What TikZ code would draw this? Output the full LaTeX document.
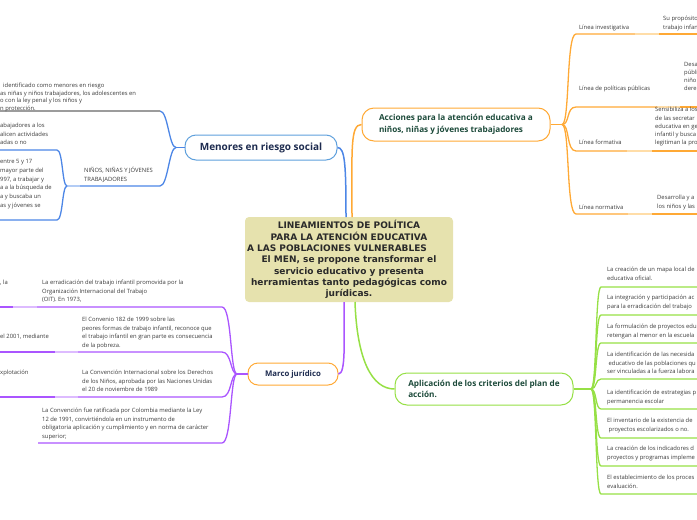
\documentclass[tikz,border=0pt]{standalone}
\usepackage{fontspec}
\setmainfont{Open Sans}
\newfontfamily\coreFont{DejaVu Sans}
\definecolor{ornLine}{HTML}{FFA935}
\definecolor{ornSoft}{HTML}{FFDDA8}
\definecolor{bluLine}{HTML}{4C86E6}
\definecolor{bluSoft}{HTML}{B3CCF5}
\definecolor{bluBorder}{HTML}{5FA0DC}
\definecolor{greyLine}{HTML}{9C9C9C}
\definecolor{purLine}{HTML}{AA55FF}
\definecolor{purSoft}{HTML}{DDBBFF}
\definecolor{grnLine}{HTML}{96E045}
\definecolor{coreFill}{HTML}{E6E2AE}
\definecolor{coreTxt}{HTML}{2A2A2A}
\definecolor{leafTxt}{HTML}{3A3A3A}
\definecolor{navyTxt}{HTML}{1D2B4F}
\definecolor{pineTxt}{HTML}{1C4A3A}
\begin{document}
\begin{tikzpicture}[x=1pt,y=-1pt,
  coreBox/.style={rectangle, rounded corners=4pt, fill=coreFill, minimum width=208pt, minimum height=85pt, inner sep=0pt, align=center, text=coreTxt, font=\coreFont\bfseries\fontsize{9}{11.3}\selectfont},
  topicBox/.style={rectangle, rounded corners=12pt, draw, line width=1pt, fill=white, inner sep=0pt, align=left, font=\bfseries\fontsize{8.2}{11.5}\selectfont},
  leafText/.style={anchor=north west, align=left, inner sep=0pt, text=leafTxt, font=\fontsize{5.85}{8.5}\selectfont},
  branchLine/.style={line width=1.5pt},
  leafLine/.style={line width=1.3pt}
]
\useasboundingbox (0,0) rectangle (697,520);
\clip (0,0) rectangle (697,520);
\node[coreBox] (core) at (349,259.5) {LINEAMIENTOS DE POLÍTICA\\PARA LA ATENCIÓN EDUCATIVA\\A LAS POBLACIONES VULNERABLES\mbox{\hspace{24pt}}\\El MEN,  se propone transformar el\\servicio educativo y presenta\\herramientas tanto pedagógicas como\\jurídicas.};
\node[topicBox, draw=ornLine, text=pineTxt, minimum width=188pt, minimum height=33pt] (acts) at (456,124.5) {Acciones para la atención educativa a\\niños, niñas y jóvenes trabajadores};
\node[topicBox, draw=bluBorder, text=navyTxt, minimum width=152pt, minimum height=25pt, rounded corners=11pt, font=\bfseries\fontsize{10}{12}\selectfont] (risk) at (261,147.5) {Menores en riesgo social};
\node[topicBox, draw=ornLine, text=navyTxt, minimum width=90pt, minimum height=22pt, rounded corners=10pt, font=\bfseries\fontsize{7.8}{11}\selectfont] (legal) at (293,374) {Marco jurídico};
\node[topicBox, draw=grnLine, text=pineTxt, minimum width=178pt, minimum height=32pt] (plan) at (484,389) {Aplicación de los criterios del plan de\\acción.};
\coordinate (coreBlue) at (346,217);
\coordinate (coreOrange) at (352,217);
\coordinate (corePurple) at (344,302);
\coordinate (coreGreen) at (355,302);
\draw[bluLine, branchLine] (coreBlue) .. controls (346,165) and (345,147.5) .. (risk.east);
\draw[ornLine, branchLine] (coreOrange) .. controls (352,150) and (350,124.5) .. (acts.west);
\draw[purLine, branchLine] (corePurple) .. controls (344,340) and (346,374) .. (legal.east);
\draw[grnLine, branchLine] (coreGreen) .. controls (357,360) and (372,389) .. (plan.west);
\coordinate (ornHub) at (562,124.5);
\draw[ornLine, branchLine] (acts.east) -- (ornHub);
\coordinate (ornLeafA) at (576,34);
\coordinate (ornLeafB) at (576,107);
\coordinate (ornLeafC) at (576,151);
\coordinate (ornLeafD) at (576,214);
\draw[ornLine, leafLine] (ornHub) .. controls (570,124.5) and (566,34) .. (ornLeafA) -- (635,34);
\draw[ornSoft, leafLine] (635,34) -- (659,34);
\draw[ornLine, leafLine] (659,34) -- (700,34);
\draw[ornLine, leafLine] (ornHub) .. controls (570,124.5) and (566,107) .. (ornLeafB) -- (657,107);
\draw[ornSoft, leafLine] (657,107) -- (680,107);
\draw[ornLine, leafLine] (680,107) -- (700,107);
\draw[ornLine, leafLine] (ornHub) .. controls (570,124.5) and (566,151) .. (ornLeafC) -- (627,151);
\draw[ornSoft, leafLine] (627,151) -- (652,151);
\draw[ornLine, leafLine] (652,151) -- (700,151);
\draw[ornLine, leafLine] (ornHub) .. controls (570,124.5) and (566,214) .. (ornLeafD) -- (628,214);
\draw[ornSoft, leafLine] (628,214) -- (652,214);
\draw[ornLine, leafLine] (652,214) -- (700,214);
\node[leafText] (lineInv) at (579,25.2) {Línea investigativa};
\node[leafText] (invNote) at (663,16.2) {Su propósito\\trabajo infan};
\node[leafText] (linePol) at (579,86.2) {Línea de políticas públicas};
\node[leafText, font=\fontsize{5.85}{8}\selectfont] (polNote) at (684,62.2) {Desa\\públi\\niño\\dere};
\node[leafText] (lineForm) at (579,140.2) {Línea formativa};
\node[leafText, font=\fontsize{5.85}{8.2}\selectfont] (formNote) at (655,107.2) {Sensibiliza a los\\de las secretar\\educativa en ge\\infantil y busca\\legitiman la pro};
\node[leafText] (lineNorm) at (579,205.2) {Línea normativa};
\node[leafText] (normNote) at (657,195.2) {Desarrolla y a\\los niños y las};
\coordinate (bluHub) at (176,147.5);
\coordinate (bluLeafA) at (160,111);
\coordinate (bluLeafB) at (160,186);
\draw[bluLine, branchLine] (risk.west) -- (bluHub);
\draw[bluLine, leafLine] (bluHub) .. controls (169,147.5) and (168,111) .. (bluLeafA);
\draw[greyLine, leafLine] (bluLeafA) -- (0,111);
\draw[bluLine, leafLine] (bluHub) .. controls (169,147.5) and (168,186) .. (bluLeafB) -- (80,186);
\draw[bluSoft, leafLine] (80,186) -- (67,186);
\coordinate (ninHub) at (67,186);
\coordinate (ninLeafA) at (57,150);
\coordinate (ninLeafB) at (57,220);
\draw[bluLine, leafLine] (ninHub) .. controls (62,186) and (63,150) .. (ninLeafA) -- (0,150);
\draw[bluLine, leafLine] (ninHub) .. controls (62,186) and (63,220) .. (ninLeafB) -- (0,220);
\node[leafText, font=\fontsize{5.85}{7.4}\selectfont] (riskNote) at (0,83.2) {\hspace*{3pt}identificado como menores en riesgo\\as niñas y niños trabajadores, los adolescentes en\\o con la ley penal y los niños y\\n protección.};
\node[leafText] (ninTitle) at (84,167.2) {NIÑOS, NIÑAS Y JÓVENES\\TRABAJADORES};
\node[leafText] (ninNoteA) at (0,123.2) {abajadores a los\\alicen actividades\\adas o no};
\node[leafText, font=\fontsize{5.85}{8.8}\selectfont] (ninNoteB) at (0,159.2) {entre 5 y 17\\mayor parte del\\997, a trabajar y\\a a la búsqueda de\\a y buscaba un\\as y jóvenes se};
\coordinate (purHub) at (237,374);
\coordinate (purLeafA) at (222,307);
\coordinate (purLeafB) at (222,352);
\coordinate (purLeafC) at (222,397);
\coordinate (purLeafD) at (222,443);
\draw[purLine, branchLine] (legal.west) -- (purHub);
\draw[purLine, leafLine] (purHub) .. controls (230,374) and (232,307) .. (purLeafA) -- (37,307);
\draw[purSoft, leafLine] (37,307) -- (13,307);
\draw[purLine, leafLine] (13,307) -- (0,307);
\draw[purLine, leafLine] (purHub) .. controls (230,374) and (232,352) .. (purLeafB) -- (78,352);
\draw[purSoft, leafLine] (78,352) -- (55,352);
\draw[purLine, leafLine] (55,352) -- (0,352);
\draw[purLine, leafLine] (purHub) .. controls (230,374) and (232,397) .. (purLeafC) -- (78,397);
\draw[purSoft, leafLine] (78,397) -- (55,397);
\draw[purLine, leafLine] (55,397) -- (0,397);
\draw[purLine, leafLine] (purHub) .. controls (230,374) and (232,443) .. (purLeafD) -- (38,443);
\node[leafText] (oitTail) at (0,280.2) {, la};
\node[leafText] (oitNote) at (42,280.2) {La erradicación del trabajo infantil promovida por la\\Organización Internacional del Trabajo\\(OIT). En 1973,};
\node[leafText] (convTail) at (0,334.2) {el 2001, mediante};
\node[leafText] (convNote) at (82,317.2) {El Convenio 182 de 1999 sobre las\\peores formas de trabajo infantil, reconoce que\\el trabajo infantil en gran parte es consecuencia\\de la pobreza.};
\node[leafText] (rightsTail) at (0,370.2) {xplotación};
\node[leafText] (rightsNote) at (82,370.2) {La Convención Internacional sobre los Derechos\\de los Niños, aprobada por las Naciones Unidas\\el 20 de noviembre de 1989};
\node[leafText] (lawNote) at (42,408.2) {La Convención fue ratificada por Colombia mediante la Ley\\12 de 1991, convirtiéndola en un instrumento de\\obligatoria aplicación y cumplimiento y en norma de carácter\\superior;};
\coordinate (grnHub) at (591,389);
\coordinate (grnLeafA) at (601,287);
\coordinate (grnLeafB) at (601,315);
\coordinate (grnLeafC) at (601,343);
\coordinate (grnLeafD) at (601,379);
\coordinate (grnLeafE) at (601,409);
\coordinate (grnLeafF) at (601,438);
\coordinate (grnLeafG) at (601,466);
\coordinate (grnLeafH) at (601,494);
\draw[grnLine, branchLine] (plan.east) -- (grnHub);
\draw[grnLine, leafLine] (grnHub) .. controls (597,389) and (595,287) .. (grnLeafA) -- (700,287);
\draw[grnLine, leafLine] (grnHub) .. controls (597,389) and (595,315) .. (grnLeafB) -- (700,315);
\draw[grnLine, leafLine] (grnHub) .. controls (597,389) and (595,343) .. (grnLeafC) -- (700,343);
\draw[grnLine, leafLine] (grnHub) .. controls (597,389) and (595,379) .. (grnLeafD) -- (700,379);
\draw[grnLine, leafLine] (grnHub) .. controls (597,389) and (595,409) .. (grnLeafE) -- (700,409);
\draw[grnLine, leafLine] (grnHub) .. controls (597,389) and (595,438) .. (grnLeafF) -- (700,438);
\draw[grnLine, leafLine] (grnHub) .. controls (597,389) and (595,466) .. (grnLeafG) -- (700,466);
\draw[grnLine, leafLine] (grnHub) .. controls (597,389) and (595,494) .. (grnLeafH) -- (700,494);
\node[leafText] (planNoteA) at (607,267.2) {La creación de un mapa local de\\educativa oficial.};
\node[leafText] (planNoteB) at (607,295.2) {La integración y participación ac\\para la erradicación del trabajo};
\node[leafText] (planNoteC) at (607,324.2) {La formulación de proyectos edu\\retengan al menor en la escuela};
\node[leafText] (planNoteD) at (607,352.2) {La identificación de las necesida\\\hspace*{1.5pt}educativo de las poblaciones qu\\ser vinculadas a la fuerza labora};
\node[leafText, font=\fontsize{5.85}{9}\selectfont] (planNoteE) at (607,390.2) {La identificación de estrategias p\\permanencia escolar};
\node[leafText] (planNoteF) at (607,418.2) {El inventario de la existencia de\\\hspace*{1.5pt}proyectos escolarizados o no.};
\node[leafText, font=\fontsize{5.85}{9}\selectfont] (planNoteG) at (607,446.2) {La creación de los indicadores d\\proyectos y programas impleme};
\node[leafText] (planNoteH) at (607,475.2) {El establecimiento de los proces\\evaluación.};
\end{tikzpicture}
\end{document}
